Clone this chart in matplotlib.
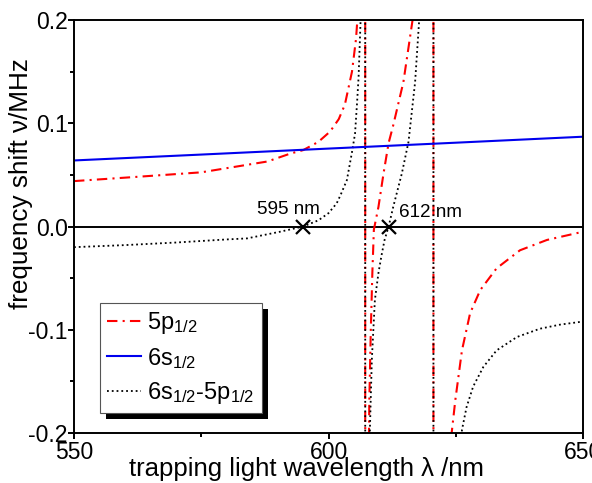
import matplotlib
matplotlib.use("Agg")
import matplotlib.pyplot as plt
from matplotlib.patches import Rectangle
from matplotlib.ticker import MultipleLocator

plt.rcParams["font.family"] = ["Liberation Sans", "DejaVu Sans"]
plt.rcParams["mathtext.fontset"] = "custom"
plt.rcParams["mathtext.rm"] = "Liberation Sans"
plt.rcParams["mathtext.it"] = "Liberation Sans"
plt.rcParams["mathtext.default"] = "regular"

# ---- data (wavelength in nm, shift in MHz)
# +-10 entries mark the poles at the two resonances
wl_5p = [550, 562, 575, 588, 592.4, 595, 598, 600.3, 602, 603.2, 604.6, 605.4, 606.0,
         607.2, 607.2,
         607.9, 608.0, 608.3, 608.6, 608.9, 609.8, 610.8, 611.8, 612.7, 614.7, 616.5, 617.0,
         620.6, 620.6,
         624.1, 624.2, 624.9, 626.2, 627.8, 629.8, 633.0, 637.6, 642.9, 650]
shift_5p = [0.044, 0.048, 0.0525, 0.063, 0.0705, 0.074, 0.082, 0.092, 0.104, 0.118, 0.150, 0.182, 0.225,
            10.0, -10.0,
            -0.22, -0.17, -0.10, -0.045, -0.003, 0.019, 0.0515, 0.081, 0.098, 0.140, 0.200, 0.225,
            10.0, -10.0,
            -0.21, -0.199, -0.168, -0.120, -0.084, -0.0615, -0.0405, -0.023, -0.013, -0.005]

wl_6s = [550, 575, 600, 625, 650]
shift_6s = [0.064, 0.0697, 0.0755, 0.0812, 0.087]

wl_diff = [550, 560, 570, 580, 584, 590.5, 595, 598, 600, 601.6, 602.4, 603.6, 604.6, 605.2, 605.6,
           605.9, 606.4,
           607.2, 607.2,
           608.0, 608.1, 608.5, 609.1, 609.8, 610.4, 611.0, 611.8, 612.7, 614.4, 615.7, 617.0, 618.0,
           620.6, 620.6,
           626.1, 626.2, 627.1, 628.4, 630.4, 633.0, 637.0, 641.5, 645.5, 650]
shift_diff = [-0.020, -0.018, -0.0155, -0.0125, -0.0115, -0.005, 0.0, 0.006, 0.013, 0.0225, 0.031,
              0.045, 0.072, 0.090, 0.120, 0.145, 0.215,
              10.0, -10.0,
              -0.22, -0.2, -0.129, -0.071, -0.045, -0.028, -0.013, 0.0, 0.019, 0.0515, 0.082, 0.14, 0.215,
              10.0, -10.0,
              -0.21, -0.197, -0.175, -0.155, -0.136, -0.120, -0.107, -0.099, -0.095, -0.092]

magic_wl = [595, 611.8]
magic_labels = ["595 nm", "612 nm"]

fig = plt.figure(figsize=(5.92, 4.83), dpi=100)
ax = fig.add_axes([0.125, 0.1035, 0.86, 0.855])

ax.plot(wl_5p, shift_5p, color="red", lw=1.5, dashes=[5, 2.5, 1, 2.5],
        label=r"5p$_{1/2}$", zorder=2)
ax.plot(wl_diff, shift_diff, color="black", lw=1.3, linestyle=":",
        label=r"6s$_{1/2}$-5p$_{1/2}$", zorder=2.1)
ax.plot(wl_6s, shift_6s, color="#0000ee", lw=1.5, label=r"6s$_{1/2}$", zorder=2.2)
ax.axhline(0, color="black", lw=1.4, zorder=1.5)

ax.plot(magic_wl, [0, 0], "x", color="black", ms=10, mew=1.6, zorder=3)
ax.text(592.1, 0.0125, magic_labels[0], fontsize=13.6, ha="center", va="baseline")
ax.text(620.0, 0.0095, magic_labels[1], fontsize=13.6, ha="center", va="baseline")

ax.set_xlim(550, 650)
ax.set_ylim(-0.2, 0.2)
ax.xaxis.set_major_locator(MultipleLocator(50))
ax.xaxis.set_minor_locator(MultipleLocator(25))
ax.yaxis.set_major_locator(MultipleLocator(0.1))
ax.yaxis.set_minor_locator(MultipleLocator(0.05))
ax.yaxis.set_major_formatter(plt.FuncFormatter(lambda v, p: f"{v:.1f}"))
ax.tick_params(which="both", direction="out", width=1.4, labelsize=16.5)
ax.tick_params(axis="x", pad=1)
ax.tick_params(axis="y", pad=0)
ax.tick_params(which="major", length=4.5)
ax.tick_params(which="minor", length=3)
for s in ax.spines.values():
    s.set_linewidth(1.4)

ax.set_xlabel("trapping light wavelength λ /nm", fontsize=18.5)
ax.xaxis.set_label_coords(0.456, -0.058, transform=ax.transAxes)
ax.xaxis.label.set_va("top")
ax.set_ylabel("frequency shift ν/MHz", fontsize=18.8)
ax.yaxis.set_label_coords(-0.104, 0.603, transform=ax.transAxes)
ax.yaxis.label.set_va("center")

handles, labels = ax.get_legend_handles_labels()
order = [0, 2, 1]
leg = ax.legend([handles[i] for i in order], [labels[i] for i in order],
                loc="lower left", bbox_to_anchor=(0.051, 0.048), borderaxespad=0,
                fancybox=False, edgecolor="#555555", framealpha=1, fontsize=17,
                handlelength=1.45, handletextpad=0.25, labelspacing=0.4, borderpad=0.3)
leg.get_frame().set_linewidth(0.8)
leg.set_zorder(5)

fig.canvas.draw()
bb = leg.get_window_extent()
ax.add_patch(Rectangle((bb.x0 + 6, bb.y0 - 6), bb.width, bb.height, transform=None,
                       facecolor="black", edgecolor="none", zorder=4.9, clip_on=False))

fig.savefig("out.png", dpi=100)
